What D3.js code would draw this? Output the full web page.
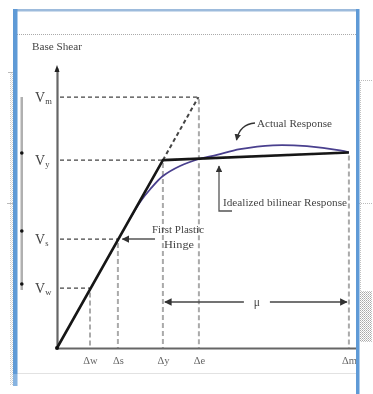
<!DOCTYPE html>
<html><head><meta charset="utf-8">
<script src="https://cdn.jsdelivr.net/npm/d3@7"></script>
<style>body{margin:0;background:#fff}svg{display:block}</style>
</head><body>
<svg id="c" width="373" height="394"></svg>
<script>
// Characteristic displacements (Δw, Δs, Δy, Δe, Δm) and base shears (Vw, Vs, Vy, Vm)
const dispKeys = ["w", "s", "y", "e", "m"];
const dispValues = [11, 20.3, 35.3, 47.3, 97.3];
const shearKeys = ["w", "s", "y", "m"];
const shearValues = [21.4, 38.9, 67.1, 89.6];

// Idealized bilinear response: elastic branch then near-flat plastic branch
const bilinearDisp = [0, 35.3, 97.3];
const bilinearShear = [0, 67.1, 69.8];

// Actual (nonlinear) response, leaving the elastic branch
const actualDisp = [24, 28, 31, 35.3, 41, 47.3, 53.3, 61, 72, 83.3, 94.3, 97.3];
const actualShear = [45.6, 52.6, 56.6, 61.4, 65.0, 67.5, 69.0, 71.0, 72.4, 72.1, 70.6, 69.9];

const svg = d3.select("#c");
const serif = "'Liberation Serif','DejaVu Serif',serif";
const ink = "#444";

const x = d3.scaleLinear([0, 100], [57, 357]);
const y = d3.scaleLinear([0, 100], [348, 68]);

const defs = svg.append("defs");
defs.append("filter").attr("id", "soft")
  .append("feGaussianBlur").attr("stdDeviation", 0.35);
defs.append("marker").attr("id", "tip").attr("viewBox", "0 0 10 10")
  .attr("refX", 9).attr("refY", 5).attr("markerWidth", 5).attr("markerHeight", 5)
  .attr("orient", "auto-start-reverse")
  .append("path").attr("d", "M0,0L10,5L0,10z").attr("fill", "#333");
defs.append("pattern").attr("id", "hatch").attr("width", 2).attr("height", 2)
  .attr("patternUnits", "userSpaceOnUse")
  .call(p => { p.append("rect").attr("width", 2).attr("height", 2).attr("fill", "#fff");
               p.append("rect").attr("width", 1).attr("height", 1).attr("fill", "#a8a8a8");
               p.append("rect").attr("x", 1).attr("y", 1).attr("width", 1).attr("height", 1).attr("fill", "#c4c4c4"); });

// ---- page furniture around the figure ----
const page = svg.append("g");
page.append("rect").attr("x", 10).attr("y", 72).attr("width", 3).attr("height", 313)
  .attr("fill", "url(#hatch)").attr("opacity", 0.55);
page.append("path").attr("d", "M8,72.5H14M7,203.5H13").attr("stroke", "#bbb").attr("stroke-width", 1);
page.append("rect").attr("x", 360).attr("y", 81).attr("width", 1).attr("height", 210)
  .attr("fill", "url(#hatch)").attr("opacity", 0.7);
page.append("rect").attr("x", 360).attr("y", 291).attr("width", 12).attr("height", 51).attr("fill", "url(#hatch)");
page.append("path").attr("d", "M359,80.5H373M359,203.5H373").attr("stroke", "#bbb").attr("stroke-dasharray", "1,1");
// inner page box
page.append("path").attr("d", "M17,34.5H356").attr("stroke", "#aaa").attr("stroke-dasharray", "1,1");
page.append("path").attr("d", "M17,373.5H356").attr("stroke", "#e2e2e2");
// side bar with markers
page.append("rect").attr("x", 20.5).attr("y", 97).attr("width", 2.5).attr("height", 193).attr("fill", "#b0b0b0");
page.selectAll("circle.mk").data([153, 231, 284]).join("circle")
  .attr("cx", 21.8).attr("cy", d => d).attr("r", 1.8).attr("fill", "#111");

// ---- chart ----
const g = svg.append("g").attr("filter", "url(#soft)");

// vertical guides from each characteristic point down to the axis
const elasticAt = d => bilinearShear[1] * d / bilinearDisp[1];
const bilinearAt = d => d <= bilinearDisp[1]
  ? elasticAt(d)
  : d3.scaleLinear(bilinearDisp.slice(1), bilinearShear.slice(1))(d);
g.selectAll("line.vg").data(dispValues).join("line")
  .attr("x1", d => x(d)).attr("x2", d => x(d))
  .attr("y1", (d, i) => y(dispKeys[i] === "e" ? elasticAt(d) : bilinearAt(d)) + 3)
  .attr("y2", y(0))
  .attr("stroke", "#aaa").attr("stroke-width", 2).attr("stroke-dasharray", "5,3");

// horizontal guides from the shear axis
const shearDisp = shearValues.map(v => v / (bilinearShear[1] / bilinearDisp[1]));
g.selectAll("line.hg").data(shearValues).join("line")
  .attr("x1", x(0) + 3).attr("x2", (d, i) => x(shearDisp[i]))
  .attr("y1", d => y(d)).attr("y2", d => y(d))
  .attr("stroke", "#444").attr("stroke-width", 1.3).attr("stroke-dasharray", "4,3");

// elastic extension up to Vm
g.append("line")
  .attr("x1", x(bilinearDisp[1])).attr("y1", y(bilinearShear[1]))
  .attr("x2", x(shearDisp[3])).attr("y2", y(shearValues[3]))
  .attr("stroke", "#444").attr("stroke-width", 2).attr("stroke-dasharray", "4,3");

// axes
const xAxis = g.append("g").attr("transform", `translate(0,${y(0)})`)
  .call(d3.axisBottom(x).tickValues(dispValues).tickSize(0).tickPadding(9)
    .tickFormat((d, i) => "\u0394" + dispKeys[i]));
xAxis.select(".domain").attr("stroke", "#666").attr("stroke-width", 2.2);
xAxis.selectAll("text").attr("font-family", serif).attr("font-size", 10.5).attr("fill", "#666");

const yAxis = g.append("g").attr("transform", `translate(${x(0)},0)`)
  .call(d3.axisLeft(y).tickValues(shearValues).tickSize(0).tickFormat(""));
yAxis.select(".domain").attr("stroke", "#666").attr("stroke-width", 2.2);
g.append("path").attr("d", `M${x(0) - 2.5},${y(100) + 4}L${x(0)},${y(100) - 3}L${x(0) + 2.5},${y(100) + 4}z`).attr("fill", "#222");

// shear labels V with subscripts
const vl = g.selectAll("text.vl").data(shearValues).join("text")
  .attr("x", 35).attr("y", d => y(d) + 5)
  .attr("font-family", serif).attr("font-size", 14).attr("fill", ink);
vl.append("tspan").text("V");
vl.append("tspan").attr("font-size", 8.5).attr("dy", 2).text((d, i) => shearKeys[i]);

g.append("text").attr("x", 32).attr("y", 50).attr("font-family", serif)
  .attr("font-size", 10.5).attr("fill", ink).attr("textLength", 50)
  .attr("lengthAdjust", "spacingAndGlyphs").text("Base Shear");

// actual response
g.append("path")
  .attr("d", d3.line().x(d => x(d[0])).y(d => y(d[1])).curve(d3.curveCatmullRom)(d3.zip(actualDisp, actualShear)))
  .attr("fill", "none").attr("stroke", "#4a3f8e").attr("stroke-width", 1.8);

// idealized bilinear
g.append("path")
  .attr("d", d3.line().x(d => x(d[0])).y(d => y(d[1]))(d3.zip(bilinearDisp, bilinearShear)))
  .attr("fill", "none").attr("stroke", "#151515").attr("stroke-width", 2.6).attr("stroke-linejoin", "round");
g.append("circle").attr("cx", x(0)).attr("cy", y(0)).attr("r", 2).attr("fill", "#111");

// annotations
g.append("path").attr("d", "M255,123Q240,124 236.5,140")
  .attr("fill", "none").attr("stroke", "#333").attr("stroke-width", 1.3).attr("marker-end", "url(#tip)");
g.append("text").attr("x", 257).attr("y", 127).attr("font-family", serif)
  .attr("font-size", 10.5).attr("fill", ink).attr("textLength", 75)
  .attr("lengthAdjust", "spacingAndGlyphs").text("Actual Response");

g.append("path").attr("d", `M219,${y(bilinearShear[1]) + 6}V211H232`)
  .attr("fill", "none").attr("stroke", "#555").attr("stroke-width", 1.3).attr("marker-start", "url(#tip)");
g.append("text").attr("x", 223).attr("y", 206).attr("font-family", serif)
  .attr("font-size", 10.5).attr("fill", ink).attr("textLength", 124)
  .attr("lengthAdjust", "spacingAndGlyphs").text("Idealized bilinear Response");

g.append("line").attr("x1", 155).attr("x2", x(shearDisp[1]) + 4)
  .attr("y1", y(shearValues[1])).attr("y2", y(shearValues[1]))
  .attr("stroke", "#555").attr("stroke-width", 1.5).attr("marker-end", "url(#tip)");
g.append("text").attr("x", 152).attr("y", 233).attr("font-family", serif)
  .attr("font-size", 10.5).attr("fill", ink).attr("textLength", 52)
  .attr("lengthAdjust", "spacingAndGlyphs").text("First Plastic");
g.append("text").attr("x", 164).attr("y", 248).attr("font-family", serif)
  .attr("font-size", 10.5).attr("fill", ink).attr("textLength", 30)
  .attr("lengthAdjust", "spacingAndGlyphs").text("Hinge");

// ductility span
const muY = 302;
const muMid = (x(dispValues[2]) + x(dispValues[4])) / 2;
g.append("line").attr("x1", muMid - 12).attr("x2", x(dispValues[2]) + 2).attr("y1", muY).attr("y2", muY)
  .attr("stroke", "#444").attr("stroke-width", 1.5).attr("marker-end", "url(#tip)");
g.append("line").attr("x1", muMid + 14).attr("x2", x(dispValues[4]) - 2).attr("y1", muY).attr("y2", muY)
  .attr("stroke", "#444").attr("stroke-width", 1.5).attr("marker-end", "url(#tip)");
g.append("text").attr("x", muMid + 1).attr("y", muY + 4).attr("text-anchor", "middle").attr("font-family", serif)
  .attr("font-size", 11.5).attr("fill", ink).text("\u03BC");

// blue frame drawn over the figure edges
const frame = svg.append("g");
frame.append("rect").attr("x", 14).attr("y", 9).attr("width", 345).attr("height", 2.5).attr("fill", "#9dbbdc");
frame.append("rect").attr("x", 13).attr("y", 9).attr("width", 4.5).attr("height", 365).attr("fill", "#5f9ad6");
frame.append("rect").attr("x", 356).attr("y", 9).attr("width", 3.5).attr("height", 385).attr("fill", "#5f9ad6");
frame.append("rect").attr("x", 13).attr("y", 374).attr("width", 4.5).attr("height", 12).attr("fill", "#5f9ad6").attr("opacity", 0.75);
</script>
</body></html>
